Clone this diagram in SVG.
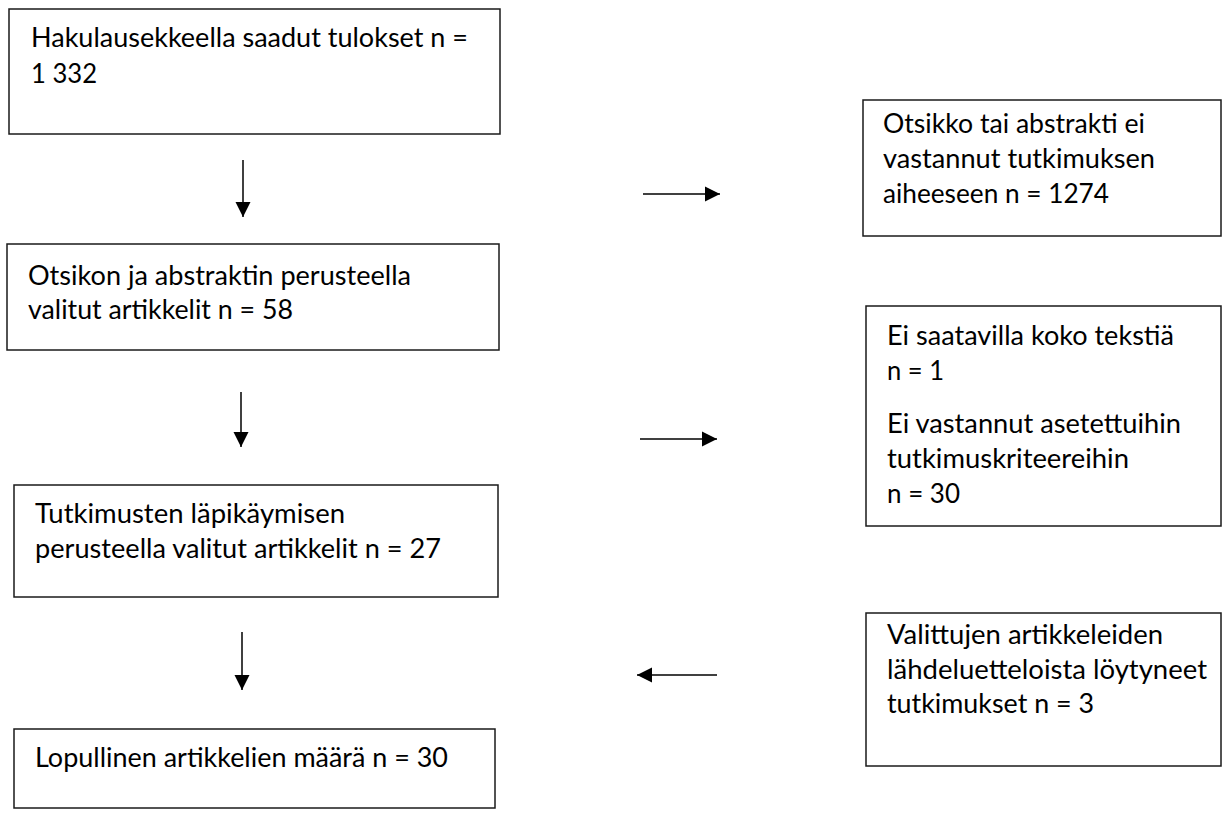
<svg xmlns="http://www.w3.org/2000/svg" width="1222" height="816" viewBox="0 0 1222 816">
<style>
.box{fill:#fff;stroke:#1a1a1a;stroke-width:1.5}
.t{font-family:Lato,"Open Sans","Liberation Sans",sans-serif;font-size:27px;fill:#000}
.c{stroke:#000;stroke-width:1.5;fill:none}
</style>
<defs>
<marker id="ah" markerUnits="userSpaceOnUse" markerWidth="16" markerHeight="16" refX="15" refY="8" orient="auto"><path d="M0,0.5 L15,8 L0,15.5 z" fill="#000"/></marker>
</defs>
<rect width="1222" height="816" fill="#fff"/>
<g id="n1">
<rect class="box" x="9" y="9" width="491" height="125"/>
<text class="t" x="31" y="47" textLength="437" lengthAdjust="spacingAndGlyphs">Hakulausekkeella saadut tulokset n =</text>
<text class="t" x="31" y="83" textLength="66" lengthAdjust="spacingAndGlyphs">1 332</text>
</g>
<g id="n2">
<rect class="box" x="863" y="100" width="358" height="136"/>
<text class="t" x="883" y="133" textLength="262" lengthAdjust="spacingAndGlyphs">Otsikko tai abstrakti ei</text>
<text class="t" x="883" y="168" textLength="272" lengthAdjust="spacingAndGlyphs">vastannut tutkimuksen</text>
<text class="t" x="883" y="203" textLength="226" lengthAdjust="spacingAndGlyphs">aiheeseen n = 1274</text>
</g>
<g id="n3">
<rect class="box" x="7" y="244" width="492" height="106"/>
<text class="t" x="28" y="285" textLength="383" lengthAdjust="spacingAndGlyphs">Otsikon ja abstraktin perusteella</text>
<text class="t" x="28" y="319" textLength="265" lengthAdjust="spacingAndGlyphs">valitut artikkelit n = 58</text>
</g>
<g id="n4">
<rect class="box" x="866" y="306" width="355" height="220"/>
<text class="t" x="887" y="345" textLength="287" lengthAdjust="spacingAndGlyphs">Ei saatavilla koko tekstiä</text>
<text class="t" x="887" y="380" textLength="57" lengthAdjust="spacingAndGlyphs">n = 1</text>
<text class="t" x="887" y="433" textLength="294" lengthAdjust="spacingAndGlyphs">Ei vastannut asetettuihin</text>
<text class="t" x="887" y="468" textLength="242" lengthAdjust="spacingAndGlyphs">tutkimuskriteereihin</text>
<text class="t" x="887" y="503" textLength="73" lengthAdjust="spacingAndGlyphs">n = 30</text>
</g>
<g id="n5">
<rect class="box" x="14" y="485" width="484" height="112"/>
<text class="t" x="35" y="523" textLength="310" lengthAdjust="spacingAndGlyphs">Tutkimusten läpikäymisen</text>
<text class="t" x="35" y="558" textLength="406" lengthAdjust="spacingAndGlyphs">perusteella valitut artikkelit n = 27</text>
</g>
<g id="n6">
<rect class="box" x="866" y="613" width="355" height="153"/>
<text class="t" x="887" y="644" textLength="276" lengthAdjust="spacingAndGlyphs">Valittujen artikkeleiden</text>
<text class="t" x="887" y="679" textLength="320" lengthAdjust="spacingAndGlyphs">lähdeluetteloista löytyneet</text>
<text class="t" x="887" y="713" textLength="207" lengthAdjust="spacingAndGlyphs">tutkimukset n = 3</text>
</g>
<g id="n7">
<rect class="box" x="14" y="729" width="481" height="79"/>
<text class="t" x="35" y="767" textLength="413" lengthAdjust="spacingAndGlyphs">Lopullinen artikkelien määrä n = 30</text>
</g>
<g id="connectors">
<line class="c" x1="243" y1="160" x2="243" y2="217" marker-end="url(#ah)"/>
<line class="c" x1="241" y1="392" x2="241" y2="447" marker-end="url(#ah)"/>
<line class="c" x1="242" y1="632" x2="242" y2="690" marker-end="url(#ah)"/>
<line class="c" x1="643" y1="194" x2="720" y2="194" marker-end="url(#ah)"/>
<line class="c" x1="640" y1="439" x2="717" y2="439" marker-end="url(#ah)"/>
<line class="c" x1="717" y1="675" x2="637" y2="675" marker-end="url(#ah)"/>
</g>
</svg>
